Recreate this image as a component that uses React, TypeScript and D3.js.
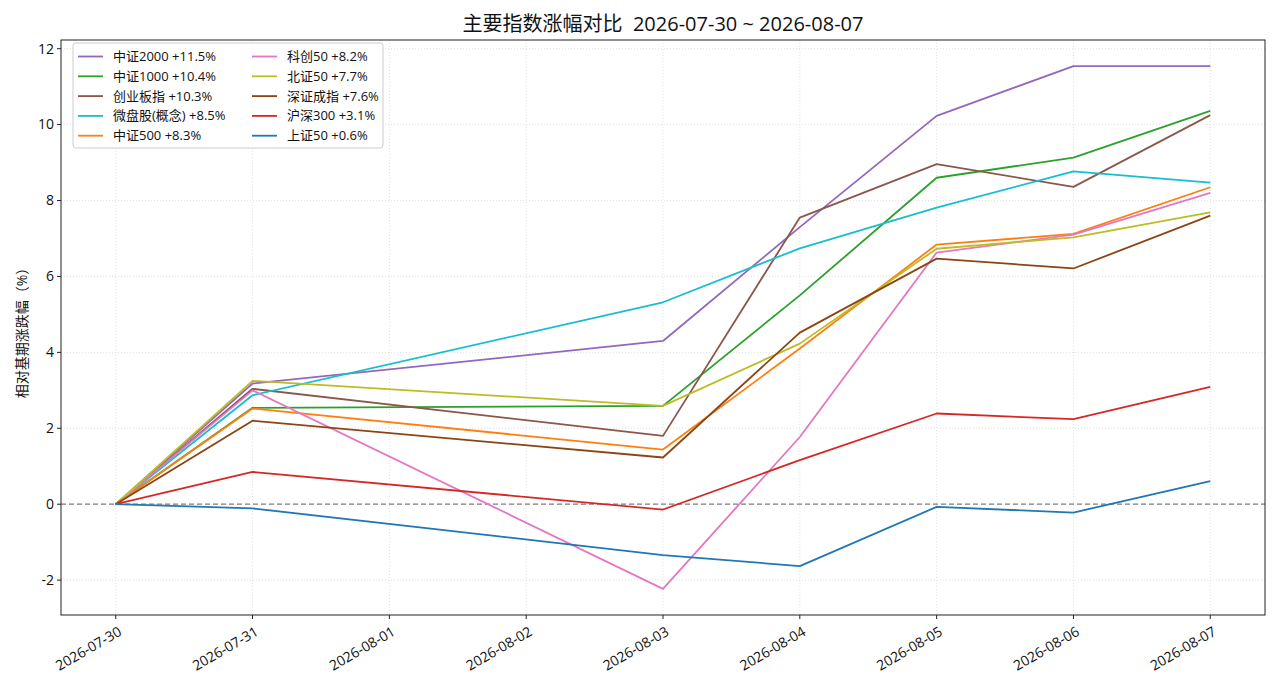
import React from "react";
import * as d3 from "d3";

const dates = ["2026-07-30", "2026-07-31", "2026-08-03", "2026-08-04", "2026-08-05", "2026-08-06", "2026-08-07"];
const tickDates = ["2026-07-30", "2026-07-31", "2026-08-01", "2026-08-02", "2026-08-03", "2026-08-04", "2026-08-05", "2026-08-06", "2026-08-07"];
const yTicks = [-2, 0, 2, 4, 6, 8, 10, 12];

const seriesNames = ["中证2000", "中证1000", "创业板指", "微盘股(概念)", "中证500", "科创50", "北证50", "深证成指", "沪深300", "上证50"];
const seriesColors = ["#9467bd", "#2ca02c", "#8c564b", "#17becf", "#ff7f0e", "#e377c2", "#bcbd22", "#8b4513", "#d62728", "#1f77b4"];

const zz2000 = [0, 3.18, 4.30, 7.30, 10.23, 11.54, 11.54];
const zz1000 = [0, 2.54, 2.59, 5.50, 8.60, 9.13, 10.36];
const cyb = [0, 3.04, 1.80, 7.55, 8.96, 8.36, 10.25];
const wpg = [0, 2.87, 5.32, 6.74, 7.81, 8.77, 8.47];
const zz500 = [0, 2.52, 1.44, 4.10, 6.84, 7.12, 8.35];
const kc50 = [0, 3.00, -2.23, 1.77, 6.63, 7.10, 8.20];
const bz50 = [0, 3.25, 2.59, 4.23, 6.73, 7.03, 7.69];
const szcz = [0, 2.20, 1.23, 4.52, 6.47, 6.21, 7.60];
const hs300 = [0, 0.85, -0.14, 1.16, 2.39, 2.24, 3.09];
const sz50 = [0, -0.11, -1.34, -1.63, -0.07, -0.22, 0.61];

const seriesValues = [zz2000, zz1000, cyb, wpg, zz500, kc50, bz50, szcz, hs300, sz50];

const W = 1280, H = 689;
const M = { left: 61, right: 1265, top: 40, bottom: 615 };
const FONT = "'Open Sans', 'Noto Sans CJK SC', sans-serif";

export default function App() {
  const parse = d3.utcParse("%Y-%m-%d");
  const xd = dates.map((d) => parse(d) as Date);
  const t0 = xd[0].getTime(), t1 = xd[xd.length - 1].getTime();
  const xpad = (t1 - t0) * 0.05;
  const x = d3.scaleUtc().domain([new Date(t0 - xpad), new Date(t1 + xpad)]).range([M.left, M.right]);
  const all = seriesValues.flat();
  const ymin = d3.min(all) as number, ymax = d3.max(all) as number;
  const ypad = (ymax - ymin) * 0.05;
  const y = d3.scaleLinear().domain([ymin - ypad, ymax + ypad]).range([M.bottom, M.top]);

  const line = d3.line<number>().x((_, i) => x(xd[i])).y((v) => y(v));

  const finalLabel = (i: number) => {
    const v = seriesValues[i][seriesValues[i].length - 1];
    return `${seriesNames[i]} ${v >= 0 ? "+" : ""}${v.toFixed(1)}%`;
  };

  const legX0 = 73, legY0 = 43;
  const colX = [0, 174];
  const rowH = 19.8;

  return (
    <svg width={W} height={H} style={{ position: "absolute", left: 0, top: 0, background: "#fff" }} fontFamily={FONT}>
      <rect x={0} y={0} width={W} height={H} fill="#fff" />
      {/* grid */}
      {tickDates.map((d) => {
        const px = x(parse(d) as Date);
        return <line key={"gx" + d} x1={px} x2={px} y1={M.top} y2={M.bottom} stroke="#d9d9d9" strokeWidth={0.8} strokeDasharray="1,2" />;
      })}
      {yTicks.map((t) => (
        <line key={"gy" + t} x1={M.left} x2={M.right} y1={y(t)} y2={y(t)} stroke="#d9d9d9" strokeWidth={0.8} strokeDasharray="1,2" />
      ))}
      {/* zero line */}
      <line x1={M.left} x2={M.right} y1={y(0)} y2={y(0)} stroke="#808080" strokeWidth={1.2} strokeDasharray="5,3" />
      {/* series */}
      {seriesValues.map((vals, i) => (
        <path key={seriesNames[i]} d={line(vals) || ""} fill="none" stroke={seriesColors[i]} strokeWidth={1.8} strokeLinejoin="round" />
      ))}
      {/* frame */}
      <rect x={M.left} y={M.top} width={M.right - M.left} height={M.bottom - M.top} fill="none" stroke="#222" strokeWidth={1} />
      {/* y ticks */}
      {yTicks.map((t) => (
        <g key={"yt" + t}>
          <line x1={M.left - 4} x2={M.left} y1={y(t)} y2={y(t)} stroke="#222" />
          <text x={M.left - 7} y={y(t)} dy="0.35em" textAnchor="end" fontSize={14} fill="#111">{t}</text>
        </g>
      ))}
      {/* x ticks */}
      {tickDates.map((d) => {
        const px = x(parse(d) as Date);
        return (
          <g key={"xt" + d}>
            <line x1={px} x2={px} y1={M.bottom} y2={M.bottom + 4} stroke="#222" />
            <text transform={`translate(${px + 2},${M.bottom + 11}) rotate(-30)`} textAnchor="end" dy="0.7em" fontSize={14} fill="#111">{d}</text>
          </g>
        );
      })}
      {/* y label */}
      <text transform={`translate(27,${(M.top + M.bottom) / 2 + 2}) rotate(-90)`} textAnchor="middle" fontSize={14} fill="#111">相对基期涨跌幅（%）</text>
      {/* title */}
      <text x={(M.left + M.right) / 2} y={31} textAnchor="middle" fontSize={20} fill="#111" style={{ whiteSpace: "pre" }}>{"主要指数涨幅对比  2026-07-30 ~ 2026-08-07"}</text>
      {/* legend */}
      <rect x={legX0} y={legY0} width={310} height={105} rx={3} fill="#fff" fillOpacity={0.8} stroke="#ccc" strokeWidth={1} />
      {seriesNames.map((n, i) => {
        const col = Math.floor(i / 5), row = i % 5;
        const lx = legX0 + 5 + colX[col];
        const ly = legY0 + 13.5 + row * rowH;
        return (
          <g key={"lg" + n}>
            <line x1={lx} x2={lx + 25} y1={ly} y2={ly} stroke={seriesColors[i]} strokeWidth={1.8} />
            <text x={lx + 35} y={ly} dy="0.35em" fontSize={13} fill="#111">{finalLabel(i)}</text>
          </g>
        );
      })}
    </svg>
  );
}
